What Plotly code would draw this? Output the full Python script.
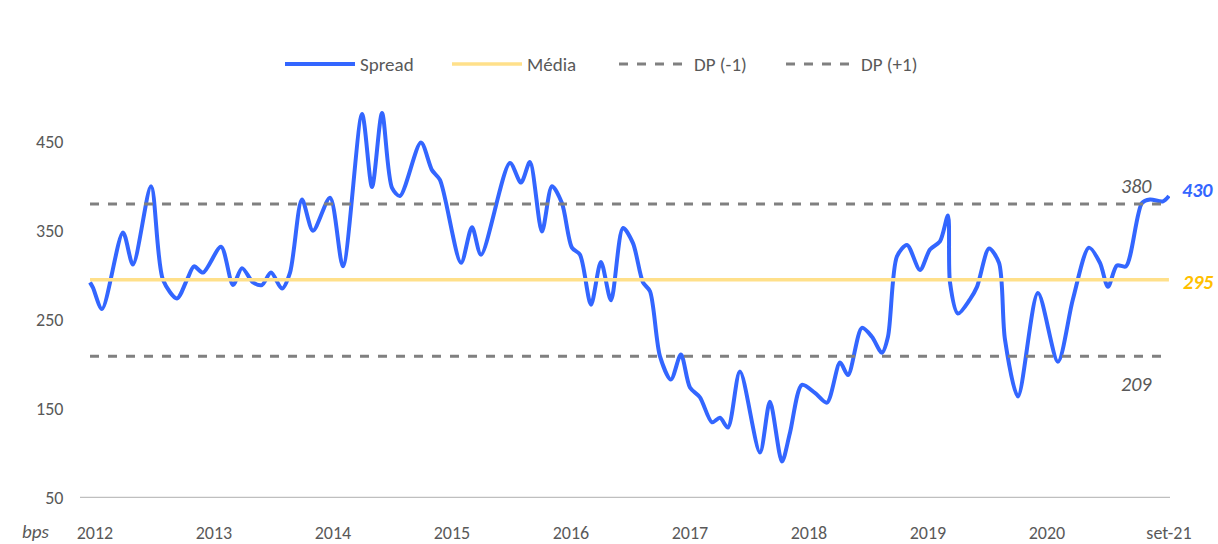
import plotly.graph_objects as go

# Spread series (position in years, bps)
t = [2011.958, 2011.983, 2012.059, 2012.235, 2012.319, 2012.471, 2012.571, 2012.689, 2012.773, 2012.832,
     2012.908, 2013.059, 2013.160, 2013.235, 2013.328, 2013.403, 2013.479, 2013.571, 2013.639, 2013.739,
     2013.832, 2013.975, 2014.084, 2014.244, 2014.328, 2014.412, 2014.496, 2014.563, 2014.739, 2014.832,
     2014.899, 2015.076, 2015.168, 2015.244, 2015.487, 2015.580, 2015.655, 2015.756, 2015.840, 2015.924,
     2016.008, 2016.076, 2016.168, 2016.252, 2016.336, 2016.437, 2016.521, 2016.605, 2016.664, 2016.748,
     2016.840, 2016.924, 2017.000, 2017.084, 2017.185, 2017.252, 2017.319, 2017.420, 2017.588, 2017.672,
     2017.773, 2017.840, 2017.941, 2018.050, 2018.151, 2018.261, 2018.328, 2018.445, 2018.529, 2018.613,
     2018.664, 2018.739, 2018.824, 2018.933, 2019.017, 2019.101, 2019.168, 2019.185, 2019.252, 2019.353,
     2019.412, 2019.513, 2019.597, 2019.647, 2019.756, 2019.924, 2020.092, 2020.218, 2020.353, 2020.445,
     2020.513, 2020.588, 2020.664, 2020.798, 2020.866, 2020.975, 2021.025]
spread = [292, 286, 262, 348, 312, 400, 295, 274, 295, 310,
          303, 332, 289, 308, 292, 289, 303, 285, 303, 385,
          350, 387, 310, 481, 399, 482, 398, 389, 449, 418,
          407, 314, 354, 323, 426, 404, 427, 349, 400, 381,
          331, 323, 267, 315, 272, 353, 336, 292, 282, 209,
          183, 211, 174, 163, 135, 140, 129, 192, 101, 158,
          91, 123, 177, 168, 157, 202, 188, 241, 231, 213,
          231, 321, 334, 306, 329, 338, 367, 292, 257, 273,
          287, 330, 314, 228, 164, 280, 203, 273, 331, 314,
          287, 311, 310, 381, 385, 383, 389]

media = 295
dp_minus = 380
dp_plus = 209

year_ticks = [2012, 2013, 2014, 2015, 2016, 2017, 2018, 2019, 2020]
year_labels = ["2012", "2013", "2014", "2015", "2016", "2017", "2018", "2019", "2020"]
last_label = "set-21"
y_ticks = [50, 150, 250, 350, 450]
last_spread_label = "430"

FONT = "Carlito, Lato, sans-serif"
GREY = "#595959"
BLUE = "#3366FF"
GOLD_LINE = "#FFE08A"
GOLD_TEXT = "#FFC000"
DASH = "#808080"

x0, x1 = t[0], t[-1]

fig = go.Figure()
fig.add_trace(go.Scatter(x=t, y=spread, mode="lines", name="Spread",
                         line=dict(color=BLUE, width=4, shape="spline", smoothing=0.8)))
fig.add_trace(go.Scatter(x=[x0, x1], y=[media, media], mode="lines", name="Média",
                         line=dict(color=GOLD_LINE, width=3.5)))
fig.add_trace(go.Scatter(x=[x0, x1], y=[dp_minus, dp_minus], mode="lines", name="DP (-1)",
                         line=dict(color=DASH, width=3, dash="dash")))
fig.add_trace(go.Scatter(x=[x0, x1], y=[dp_plus, dp_plus], mode="lines", name="DP (+1)",
                         line=dict(color=DASH, width=3, dash="dash")))

annos = [
    dict(x=x1, y=dp_minus, text=str(dp_minus), xshift=-32, yshift=18,
         font=dict(color=GREY, size=20, family=FONT, style="italic")),
    dict(x=x1, y=dp_plus, text=str(dp_plus), xshift=-32, yshift=-28,
         font=dict(color=GREY, size=20, family=FONT, style="italic")),
    dict(x=x1, y=dp_minus, text="<b>" + last_spread_label + "</b>", xshift=29, yshift=14,
         font=dict(color=BLUE, size=20, family=FONT, style="italic")),
    dict(x=x1, y=media, text="<b>" + str(media) + "</b>", xshift=29, yshift=-2,
         font=dict(color=GOLD_TEXT, size=20, family=FONT, style="italic")),
]
for a in annos:
    fig.add_annotation(xref="x", yref="y", showarrow=False, **a)

fig.add_annotation(xref="paper", yref="paper", x=-0.041, y=0, yshift=-33, showarrow=False,
                   text="bps", xanchor="center", yanchor="middle",
                   font=dict(color=GREY, size=19, family=FONT, style="italic"))

fig.update_layout(
    width=1218, height=544,
    margin=dict(l=80, r=48, t=100, b=46, autoexpand=False),
    paper_bgcolor="white", plot_bgcolor="white",
    font=dict(family=FONT, color=GREY, size=18),
    showlegend=True,
    legend=dict(orientation="h", x=(280 - 80) / 1090, xanchor="left", y=1.09, yanchor="middle",
                font=dict(size=19, color=GREY, family=FONT), itemwidth=70,
                traceorder="normal", entrywidth=82, entrywidthmode="pixels",
                bgcolor="rgba(0,0,0,0)"),
    xaxis=dict(range=[2011.874, 2021.034], showgrid=False, zeroline=False,
               tickmode="array", tickvals=year_ticks + [x1], ticktext=year_labels + [last_label],
               ticks="outside", ticklen=18, tickcolor="rgba(0,0,0,0)",
               showline=False, tickfont=dict(size=18, color=GREY, family=FONT)),
    yaxis=dict(range=[50, 496.7], showgrid=False, zeroline=False, tickvals=y_ticks,
               ticks="outside", ticklen=12, tickcolor="rgba(0,0,0,0)",
               showline=False, tickfont=dict(size=18, color=GREY, family=FONT)),
)
# baseline at 50
fig.add_shape(type="line", xref="paper", yref="y", x0=0, x1=1, y0=50, y1=50,
              line=dict(color="#BFBFBF", width=2.5), layer="below")

fig.write_html("out.html", config={"displayModeBar": False},
               post_script="document.body.style.margin='0';")
